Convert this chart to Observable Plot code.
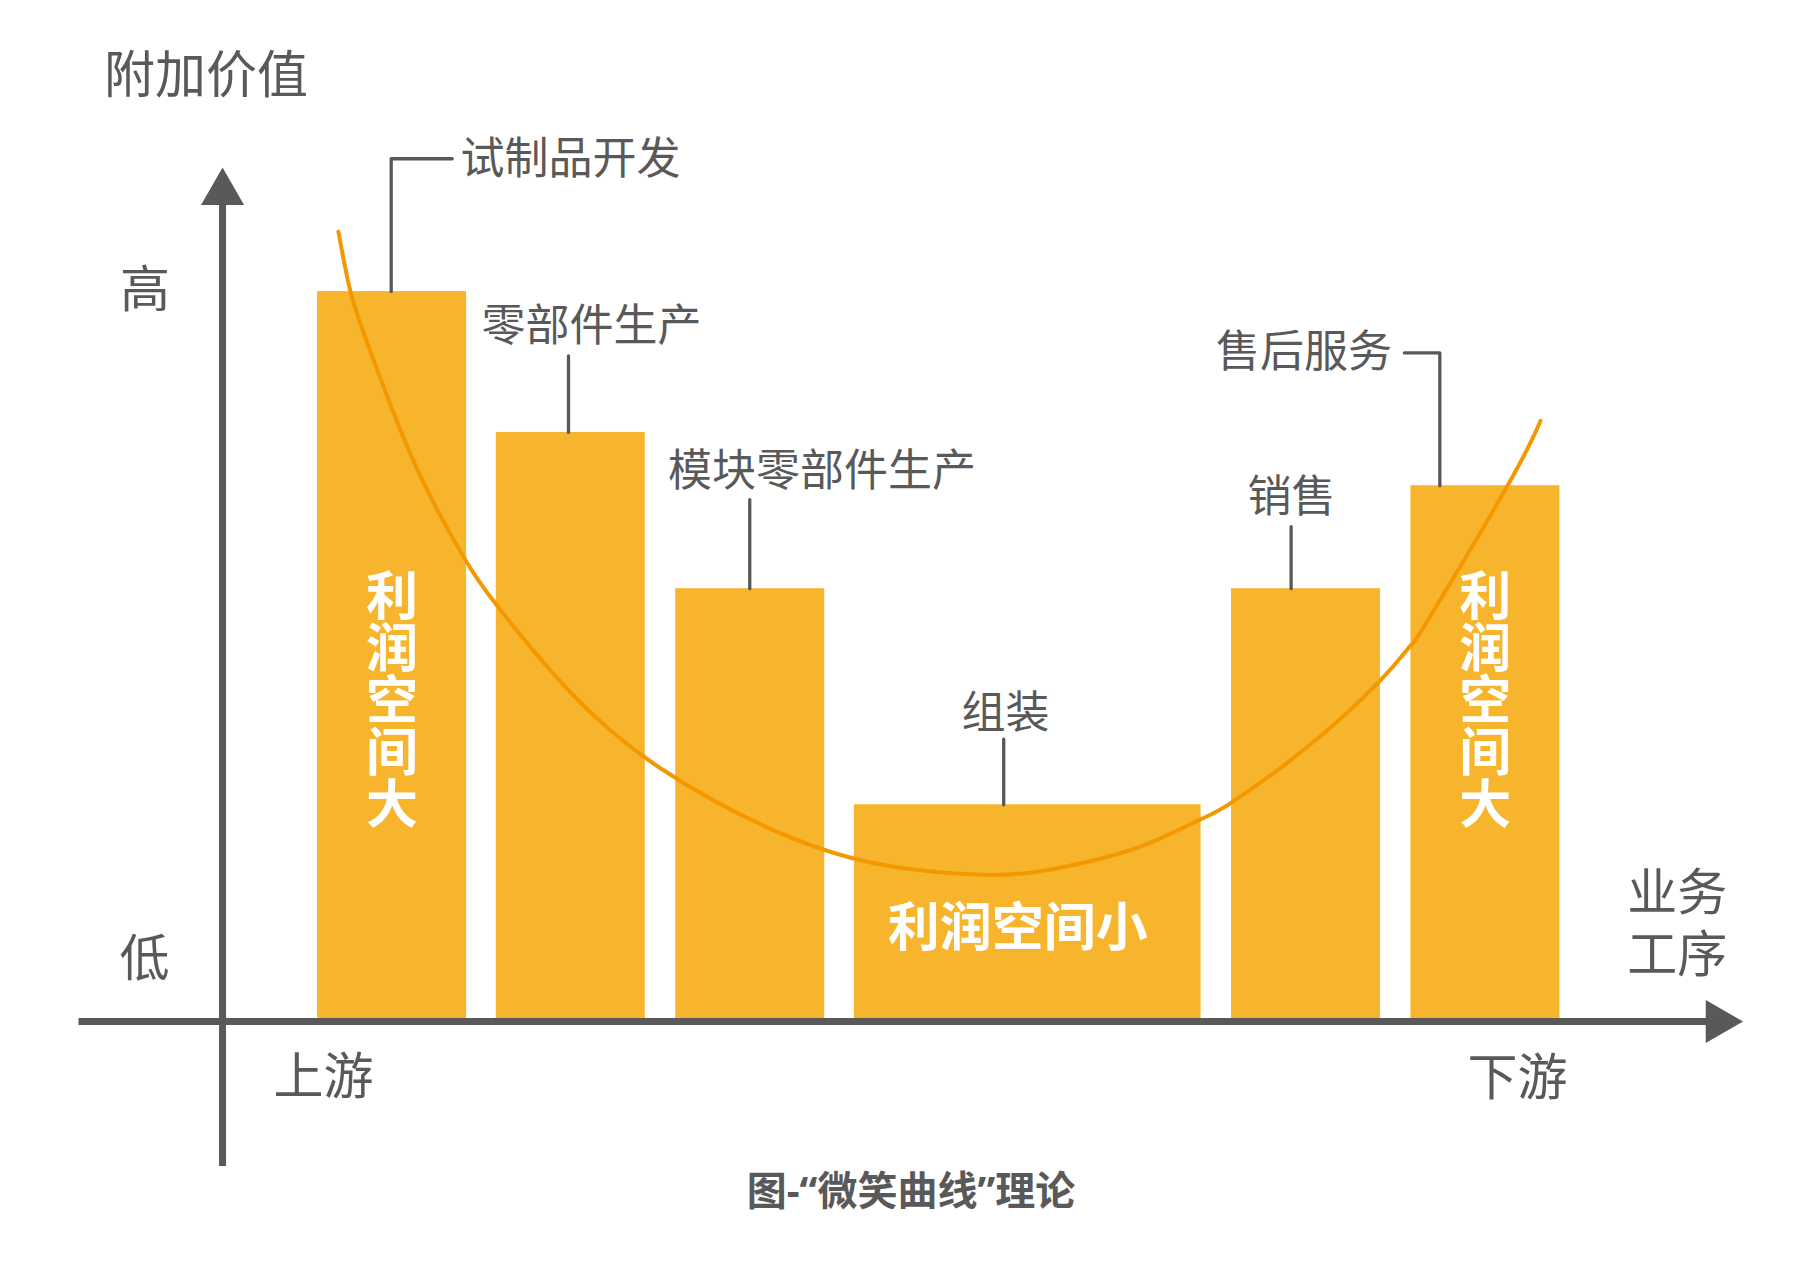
<!DOCTYPE html>
<html lang="zh-CN">
<head>
<meta charset="utf-8">
<script src="https://cdn.jsdelivr.net/npm/d3@7"></script>
<script src="https://cdn.jsdelivr.net/npm/@observablehq/plot@0.6"></script>
<style>
html, body { margin: 0; padding: 0; background: #ffffff; }
#wrap { position: relative; width: 1800px; height: 1264px; overflow: hidden;
        font-family: "Noto Sans CJK SC", "Noto Sans", sans-serif; color: #595959; }
#title { position: absolute; left: 104px; top: 46px; font-size: 51px; line-height: 1; }
#chart { position: absolute; left: 0; top: 130px; }
#caption { position: absolute; left: 0; width: 1822px; top: 1168px; text-align: center;
           font-size: 40px; font-weight: bold; line-height: 1; }
#caption .q { font-family: "Noto Sans", "DejaVu Sans", sans-serif; }
</style>
</head>
<body>
<div id="wrap">
  <div id="title">附加价值</div>
  <div id="chart"></div>
  <div id="caption">图<span class="q">-“</span>微笑曲线<span class="q">”</span>理论</div>
</div>
<script>
// ---- data (business process position 0–100, added value 0–100) ----
const stages     = ["试制品开发", "零部件生产", "模块零部件生产", "组装", "销售", "售后服务"];
const barStart   = [6.25, 18.0, 29.8, 41.55, 66.35, 78.15];
const barEnd     = [16.05, 27.8, 39.6, 64.35, 76.15, 87.95];
const addedValue = [100, 80.7, 59.3, 29.7, 59.3, 73.4];

// stage label positions and leader lines
const labelX      = [15.64, 17.03, 29.3, 51.48, 70.29, 76.9];
const labelY      = [118.4, 95.6, 75.7, 42.6, 72.1, 92.0];
const labelAnchor = ["start", "start", "start", "middle", "middle", "end"];
const leaderX = [[11.09, 11.09, 15.10], [22.75, 22.75], [34.67, 34.67], [51.37, 51.37], [70.27, 70.27], [77.72, 80.05, 80.05]];
const leaderY = [[100, 118.2, 118.2], [80.7, 91.2], [59.3, 71.5], [29.7, 38.7], [59.3, 67.8], [91.6, 91.6, 73.4]];

// the smile curve
const curveX = [7.62, 8.41, 9.53, 11.70, 13.87, 16.04, 18.01, 22.88, 28.80, 36.03, 41.56, 45.57, 50.17, 53.79, 57.73, 61.02, 64.31, 66.35, 71.21, 76.08, 78.12, 79.24, 84.50, 86.67];
const curveY = [108.2, 100.0, 92.9, 81.0, 71.1, 63.0, 57.1, 45.1, 34.7, 26.4, 22.3, 20.8, 20.1, 20.6, 22.3, 24.5, 27.7, 30.0, 37.4, 46.6, 51.5, 54.9, 73.4, 82.3];

// axes
const xExtent = [-9.44, 100];
const yExtent = [-19.86, 117];
const axisText  = ["高", "低", "上游", "下游", "业务\n工序"];
const axisTextX = [-5.10, -5.13, 6.64, 85.16, 95.66];
const axisTextY = [101.0, 9.4, -6.8, -6.9, 14.2];

// profit annotations inside bars
const profitText     = ["利润空间大", "利润空间大"];
const profitX        = [11.15, 83.04];
const profitY        = [44.2, 44.2];
const smallProfit    = ["利润空间小"];
const smallProfitX   = [52.3];
const smallProfitY   = [13.1];

// ---- tables ----
const bars = stages.map((s, i) => ({stage: s, x1: barStart[i], x2: barEnd[i], v: addedValue[i]}));
const labels = stages.map((s, i) => ({text: s, x: labelX[i], y: labelY[i], anchor: labelAnchor[i]}));
const leaders = leaderX.flatMap((xs, i) => xs.map((x, j) => ({id: i, x, y: leaderY[i][j]})));
const curve = curveX.map((x, i) => ({x, y: curveY[i]}));
const axisLabels = axisText.map((t, i) => ({text: t, x: axisTextX[i], y: axisTextY[i]}));
const profit = profitText.map((t, i) => ({text: t, x: profitX[i], y: profitY[i]}));
const profitSmall = smallProfit.map((t, i) => ({text: t, x: smallProfitX[i], y: smallProfitY[i]}));

const grey = "#595959";
const barColor = "#F7B52D";
const curveColor = "#F39800";

const chart = Plot.plot({
  width: 1800,
  height: 1050,
  marginTop: 0, marginRight: 0, marginBottom: 0, marginLeft: 0,
  x: {domain: xExtent, range: [78.5, 1742.7], axis: null},
  y: {domain: yExtent, range: [1036, 37], axis: null},
  style: {fontFamily: '"Noto Sans CJK SC", "Noto Sans", sans-serif', background: "transparent", overflow: "visible"},
  marks: [
    Plot.rect(bars, {x1: "x1", x2: "x2", y1: 0, y2: "v", fill: barColor}),
    Plot.line(curve, {x: "x", y: "y", curve: "natural", stroke: curveColor, strokeWidth: 4}),
    Plot.line(leaders, {x: "x", y: "y", z: "id", stroke: grey, strokeWidth: 3.3, curve: "linear"}),
    // axes (line ends tucked under the arrowheads)
    Plot.ruleY([{y: 0, x1: xExtent[0], x2: xExtent[1]}], {y: "y", x1: "x1", x2: "x2", insetRight: 30, stroke: grey, strokeWidth: 7}),
    Plot.ruleX([{x: 0, y1: yExtent[1], y2: yExtent[0]}], {x: "x", y1: "y1", y2: "y2", insetTop: 30, stroke: grey, strokeWidth: 7}),
    Plot.dot([{x: xExtent[1], y: 0}], {x: "x", y: "y", symbol: "triangle", r: 16, rotate: 90, dx: -25, fill: grey, stroke: "none"}),
    Plot.dot([{x: 0, y: yExtent[1]}], {x: "x", y: "y", symbol: "triangle", r: 16, dy: 25, fill: grey, stroke: "none"}),
    // texts
    Plot.text(labels, {filter: d => d.anchor === "start", x: "x", y: "y", text: "text", textAnchor: "start", fontSize: 44, fill: grey, dy: 3}),
    Plot.text(labels, {filter: d => d.anchor === "middle", x: "x", y: "y", text: "text", textAnchor: "middle", fontSize: 44, fill: grey, dy: 3}),
    Plot.text(labels, {filter: d => d.anchor === "end", x: "x", y: "y", text: "text", textAnchor: "end", fontSize: 44, fill: grey, dy: 3}),
    Plot.text(axisLabels, {x: "x", y: "y", text: "text", fontSize: 50, lineHeight: 1.25, fill: grey, dy: 3}),
    Plot.text(profitSmall, {x: "x", y: "y", text: "text", fontSize: 52, fontWeight: "bold", fill: "#ffffff", dy: 3}),
    Plot.text(profit, {x: "x", y: "y", text: "text", fontSize: 52, fontWeight: "bold", fill: "#ffffff"})
  ]
});
// the vertical labels inside the tall bars are written top-to-bottom
chart.querySelectorAll("text").forEach(t => {
  if (t.textContent === "利润空间大") {
    t.setAttribute("y", "0");
    t.style.writingMode = "vertical-rl";
    t.style.textOrientation = "upright";
  }
});
document.getElementById("chart").appendChild(chart);
</script>
</body>
</html>
